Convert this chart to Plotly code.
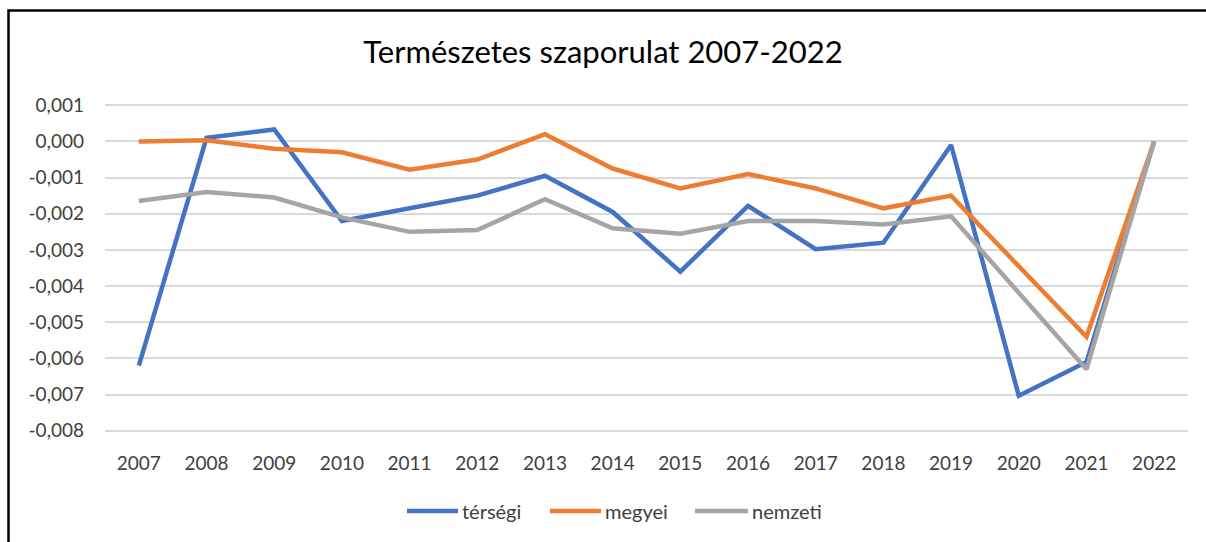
import plotly.graph_objects as go

years = ["2007", "2008", "2009", "2010", "2011", "2012", "2013", "2014",
         "2015", "2016", "2017", "2018", "2019", "2020", "2021", "2022"]

tersegi = [-0.0062, 0.0001, 0.00033, -0.0022, -0.00185, -0.0015, -0.00095, -0.00195,
           -0.0036, -0.00178, -0.00298, -0.0028, -0.0001, -0.00703, -0.0061, 0.0]
megyei = [0.0, 0.00003, -0.0002, -0.0003, -0.00078, -0.0005, 0.0002, -0.00075,
          -0.0013, -0.0009, -0.0013, -0.00185, -0.0015, -0.00345, -0.0054, 0.0]
nemzeti = [-0.00165, -0.0014, -0.00155, -0.0021, -0.0025, -0.00245, -0.0016, -0.0024,
           -0.00255, -0.0022, -0.0022, -0.0023, -0.00207, -0.0042, -0.0063, 0.0]

series_names = ["térségi", "megyei", "nemzeti"]
series_colors = ["#4472C4", "#ED7D31", "#A5A5A5"]

y_tickvals = [0.001, 0.0, -0.001, -0.002, -0.003, -0.004, -0.005, -0.006, -0.007, -0.008]
y_ticktext = ["0,001", "0,000", "-0,001", "-0,002", "-0,003", "-0,004", "-0,005",
              "-0,006", "-0,007", "-0,008"]

title_text = "Természetes szaporulat 2007-2022"

# ---- layout geometry (pixels) ----
W, H = 1206, 542
L, R = 105, 18
T, B = 98, 104
pw = W - L - R
ph = H - T - B


def px_x(x):
    return (x - L) / pw


def px_y(y):
    return (H - B - y) / ph


FONT = "Lato, Carlito, 'Open Sans', sans-serif"
TXT = "#404040"

fig = go.Figure()
for name, vals, col in zip(series_names, [tersegi, megyei, nemzeti], series_colors):
    fig.add_trace(go.Scatter(
        x=years, y=vals, name=name, mode="lines",
        line=dict(color=col, width=4.5, shape="linear"),
        showlegend=False,
    ))

# custom legend (Excel style: long line sample, text right after)
legend_line_x = [(407, 458), (550, 601), (695, 748)]
legend_text_x = [460, 603, 750]
legend_y = 511
shapes = [dict(type="rect", xref="paper", yref="paper",
               x0=px_x(8.5), x1=px_x(1230), y0=px_y(600), y1=px_y(10.5),
               line=dict(color="#000000", width=2.5), fillcolor="rgba(0,0,0,0)",
               layer="above")]
annotations = []
for (x0, x1), tx, name, col in zip(legend_line_x, legend_text_x, series_names, series_colors):
    shapes.append(dict(type="line", xref="paper", yref="paper",
                       x0=px_x(x0), x1=px_x(x1), y0=px_y(legend_y), y1=px_y(legend_y),
                       line=dict(color=col, width=4.5)))
    annotations.append(dict(text=name, xref="paper", yref="paper",
                            x=px_x(tx), y=px_y(legend_y), xanchor="left", yanchor="middle",
                            showarrow=False,
                            font=dict(family=FONT, size=20, color=TXT)))

fig.update_layout(
    width=W, height=H,
    margin=dict(l=L, r=R, t=T, b=B, pad=0),
    paper_bgcolor="white", plot_bgcolor="white",
    font=dict(family=FONT, size=19, color=TXT),
    title=dict(text=title_text, x=0.5, xanchor="center", xref="container",
               y=1 - 52 / H, yanchor="middle", yref="container",
               font=dict(family=FONT, size=31, color="#000000")),
    showlegend=False,
    xaxis=dict(type="category", range=[-0.5, 15.5], showgrid=False,
               zeroline=False, showline=False, ticks="",
               ticklabelstandoff=12,
               tickfont=dict(family=FONT, size=19, color=TXT)),
    yaxis=dict(range=[-0.0082, 0.0012], tickmode="array",
               tickvals=y_tickvals, ticktext=y_ticktext,
               showgrid=True, gridcolor="#D9D9D9", gridwidth=1.5,
               zeroline=False, showline=False, ticks="",
               ticklabelstandoff=20,
               tickfont=dict(family=FONT, size=19, color=TXT)),
    shapes=shapes,
    annotations=annotations,
)

fig.write_html("out.html", config={"displayModeBar": False},
               post_script="document.body.style.margin='0';")
